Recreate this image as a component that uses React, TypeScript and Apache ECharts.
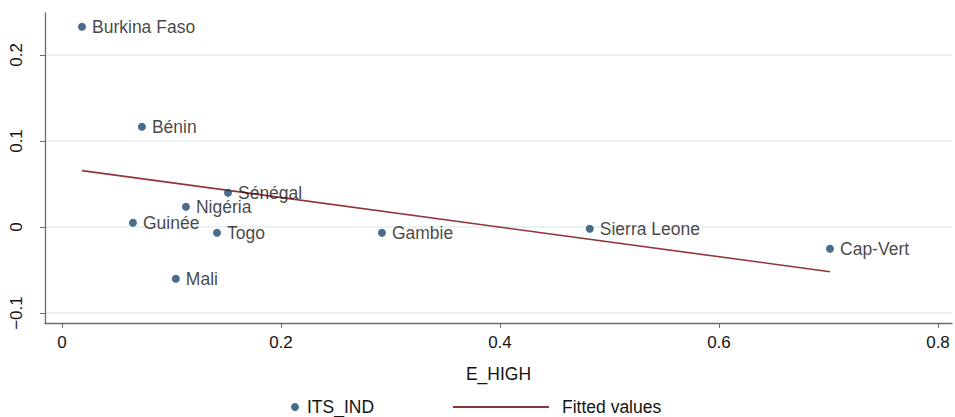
import React, { useEffect, useRef } from "react";
import * as echarts from "echarts";

const countries = ["Burkina Faso", "Bénin", "Sénégal", "Nigéria", "Guinée", "Togo", "Mali", "Gambie", "Sierra Leone", "Cap-Vert"];
const eHigh = [0.0183, 0.073, 0.1516, 0.1132, 0.0648, 0.1416, 0.104, 0.2922, 0.482, 0.7014];
const itsInd = [0.2329, 0.1166, 0.0399, 0.0236, 0.005, -0.0066, -0.0601, -0.0066, -0.002, -0.0252];
const fittedX = [0.0183, 0.7014];
const fittedY = [0.0655, -0.052];
const xTicks = [0, 0.2, 0.4, 0.6, 0.8];
const yTicks = [-0.1, 0, 0.1, 0.2];

const FONT = "'Liberation Sans', Arial, Helvetica, sans-serif";
const TEXT = "#141414";

export default function App() {
  const ref = useRef<HTMLDivElement>(null);
  useEffect(() => {
    if (!ref.current) return;
    const chart = echarts.init(ref.current, null, { renderer: "svg" });
    const axisColor = "#6a6a6a";
    chart.setOption({
      animation: false,
      backgroundColor: "#ffffff",
      textStyle: { fontFamily: FONT },
      grid: { left: 45, right: 3, top: 13, bottom: 94, containLabel: false },
      xAxis: {
        type: "value",
        min: -0.0155,
        max: 0.8128,
        name: "E_HIGH",
        nameLocation: "middle",
        nameGap: 42,
        nameTextStyle: { fontSize: 17.5, color: TEXT, fontFamily: FONT },
        axisLine: { show: true, onZero: false, lineStyle: { color: axisColor, width: 1.3 } },
        axisTick: { show: true, length: 5, customValues: xTicks, lineStyle: { color: axisColor } },
        axisLabel: { customValues: xTicks, fontSize: 17, color: TEXT, margin: 11, fontFamily: FONT, formatter: (v: number) => String(v) },
        splitLine: { show: false },
      },
      yAxis: {
        type: "value",
        min: -0.1116,
        max: 0.2488,
        axisLine: { show: true, onZero: false, lineStyle: { color: axisColor, width: 1.3 } },
        axisTick: { show: true, length: 5, customValues: yTicks, lineStyle: { color: axisColor } },
        axisLabel: {
          customValues: yTicks,
          rotate: 90,
          fontSize: 17,
          color: TEXT,
          margin: 20,
          fontFamily: FONT,
          formatter: (v: number) => (v < 0 ? "\u2212" + String(-v) : String(v)),
        },
        splitLine: { show: false },
      },
      legend: [
        {
          data: [{ name: "ITS_IND", icon: "circle" }],
          left: 291,
          top: 398,
          itemWidth: 8,
          itemHeight: 8,
          itemGap: 4,
          textStyle: { fontSize: 17.5, color: TEXT, fontFamily: FONT, padding: [0, 0, 0, 3] },
          padding: 0,
        },
        {
          data: [{ name: "Fitted values", icon: "rect", itemStyle: { color: "#90353b" } }],
          left: 453,
          top: 398,
          itemWidth: 96,
          itemHeight: 2,
          textStyle: { fontSize: 17.5, color: TEXT, fontFamily: FONT, padding: [0, 0, 0, 8] },
          padding: 0,
        },
      ],
      series: [
        {
          name: "ITS_IND",
          type: "scatter",
          symbol: "circle",
          symbolSize: 8,
          itemStyle: { color: "#1a476f" },
          data: countries.map((c, i) => ({ value: [eHigh[i], itsInd[i]], name: c })),
          label: {
            show: true,
            position: "right",
            distance: 6,
            formatter: (p: any) => p.name,
            fontSize: 17.5,
            color: TEXT,
            fontFamily: FONT,
          },
          markLine: {
            silent: true,
            symbol: "none",
            label: { show: false },
            lineStyle: { color: "#e4eef0", type: "solid", width: 1.6 },
            data: yTicks.map((v) => ({ yAxis: v })),
            z: 0,
          },
          z: 3,
        },
        {
          name: "Fitted values",
          type: "line",
          symbol: "none",
          lineStyle: { color: "#90353b", width: 1.6 },
          itemStyle: { color: "#90353b" },
          data: fittedX.map((x, i) => [x, fittedY[i]]),
          z: 2,
        },
      ],
    });
    return () => chart.dispose();
  }, []);
  return <div ref={ref} style={{ width: 955, height: 417, position: "absolute", left: 0, top: 0 }} />;
}
